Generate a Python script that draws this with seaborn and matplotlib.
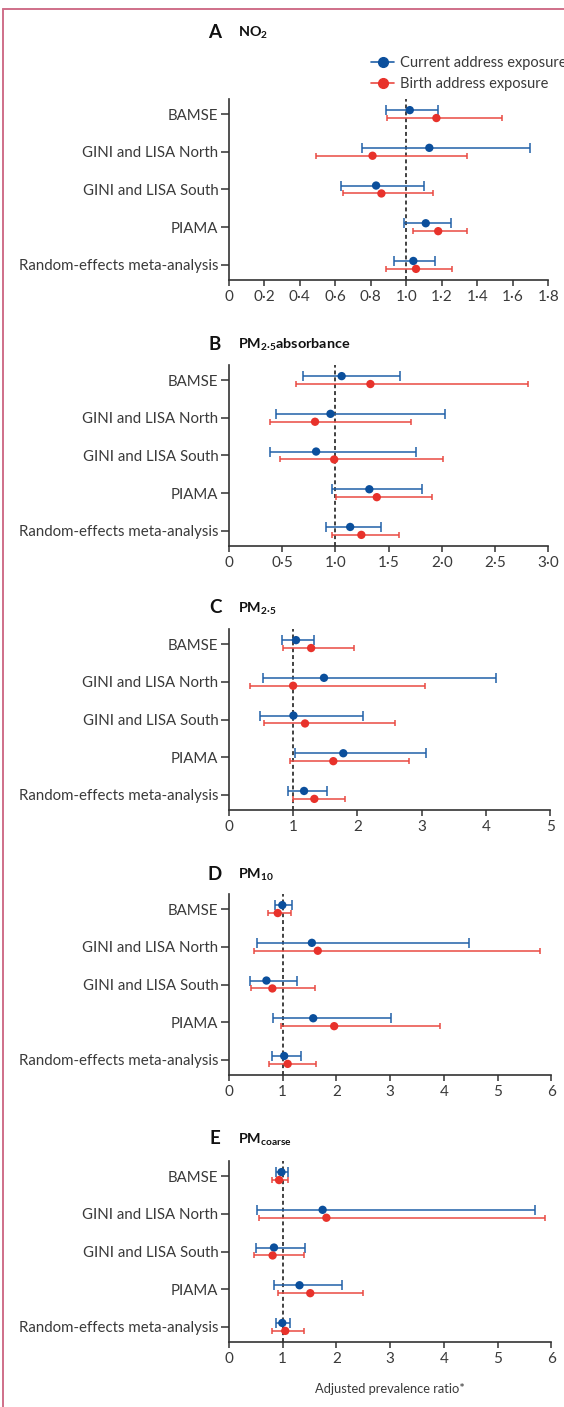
import numpy as np
import pandas as pd
import matplotlib
matplotlib.use("Agg")
import matplotlib.pyplot as plt
from matplotlib.lines import Line2D
import seaborn as sns

# ---------------- data ----------------
cohorts = ["BAMSE", "GINI and LISA North", "GINI and LISA South", "PIAMA",
           "Random-effects meta-analysis"]
exposures = ["Current address exposure", "Birth address exposure"]

panel_letters = ["A", "B", "C", "D", "E"]
panel_titles = ["NO$_2$", "PM$_{2·5}$absorbance", "PM$_{2·5}$", "PM$_{10}$", "PM$_{coarse}$"]

# NO2
no2_cur_pt = [1.02, 1.13, 0.83, 1.11, 1.04]
no2_cur_lo = [0.885, 0.75, 0.63, 0.99, 0.93]
no2_cur_hi = [1.18, 1.70, 1.10, 1.25, 1.16]
no2_bir_pt = [1.17, 0.81, 0.86, 1.18, 1.055]
no2_bir_lo = [0.89, 0.49, 0.645, 1.04, 0.885]
no2_bir_hi = [1.54, 1.34, 1.15, 1.34, 1.26]

# PM2.5 absorbance
abs_cur_pt = [1.06, 0.955, 0.82, 1.32, 1.14]
abs_cur_lo = [0.70, 0.445, 0.385, 0.97, 0.91]
abs_cur_hi = [1.61, 2.03, 1.76, 1.81, 1.43]
abs_bir_pt = [1.33, 0.81, 0.99, 1.39, 1.245]
abs_bir_lo = [0.63, 0.385, 0.485, 1.005, 0.965]
abs_bir_hi = [2.81, 1.71, 2.01, 1.91, 1.60]

# PM2.5
pm25_cur_pt = [1.045, 1.48, 1.005, 1.78, 1.17]
pm25_cur_lo = [0.83, 0.535, 0.49, 1.035, 0.915]
pm25_cur_hi = [1.325, 4.16, 2.09, 3.06, 1.525]
pm25_bir_pt = [1.28, 1.00, 1.185, 1.625, 1.33]
pm25_bir_lo = [0.85, 0.33, 0.555, 0.955, 1.00]
pm25_bir_hi = [1.945, 3.05, 2.58, 2.805, 1.80]

# PM10
pm10_cur_pt = [0.995, 1.545, 0.70, 1.57, 1.03]
pm10_cur_lo = [0.85, 0.53, 0.39, 0.83, 0.80]
pm10_cur_hi = [1.18, 4.46, 1.275, 3.01, 1.335]
pm10_bir_pt = [0.91, 1.655, 0.81, 1.96, 1.095]
pm10_bir_lo = [0.72, 0.475, 0.41, 0.97, 0.75]
pm10_bir_hi = [1.155, 5.79, 1.61, 3.93, 1.625]

# PMcoarse
pmc_cur_pt = [0.98, 1.745, 0.84, 1.315, 0.995]
pmc_cur_lo = [0.87, 0.53, 0.51, 0.835, 0.87]
pmc_cur_hi = [1.095, 5.70, 1.425, 2.105, 1.145]
pmc_bir_pt = [0.935, 1.815, 0.815, 1.515, 1.05]
pmc_bir_lo = [0.80, 0.555, 0.475, 0.92, 0.795]
pmc_bir_hi = [1.095, 5.89, 1.405, 2.50, 1.39]

# x tick values / labels per panel
ticks_A = [0, 0.2, 0.4, 0.6, 0.8, 1.0, 1.2, 1.4, 1.6, 1.8]
labels_A = ["0", "0·2", "0·4", "0·6", "0·8", "1·0", "1·2", "1·4", "1·6", "1·8"]
ticks_B = [0, 0.5, 1.0, 1.5, 2.0, 2.5, 3.0]
labels_B = ["0", "0·5", "1·0", "1·5", "2·0", "2·5", "3·0"]
ticks_C = [0, 1, 2, 3, 4, 5]
labels_C = ["0", "1", "2", "3", "4", "5"]
ticks_D = [0, 1, 2, 3, 4, 5, 6]
labels_D = ["0", "1", "2", "3", "4", "5", "6"]
ticks_E = [0, 1, 2, 3, 4, 5, 6]
labels_E = ["0", "1", "2", "3", "4", "5", "6"]

panels = [
    (no2_cur_pt, no2_cur_lo, no2_cur_hi, no2_bir_pt, no2_bir_lo, no2_bir_hi, ticks_A, labels_A),
    (abs_cur_pt, abs_cur_lo, abs_cur_hi, abs_bir_pt, abs_bir_lo, abs_bir_hi, ticks_B, labels_B),
    (pm25_cur_pt, pm25_cur_lo, pm25_cur_hi, pm25_bir_pt, pm25_bir_lo, pm25_bir_hi, ticks_C, labels_C),
    (pm10_cur_pt, pm10_cur_lo, pm10_cur_hi, pm10_bir_pt, pm10_bir_lo, pm10_bir_hi, ticks_D, labels_D),
    (pmc_cur_pt, pmc_cur_lo, pmc_cur_hi, pmc_bir_pt, pmc_bir_lo, pmc_bir_hi, ticks_E, labels_E),
]

# ---------------- style ----------------
sns.set_theme(style="ticks")
plt.rcParams["font.family"] = ["Lato", "DejaVu Sans"]
plt.rcParams["mathtext.fontset"] = "custom"
plt.rcParams["mathtext.rm"] = "Lato:bold"
plt.rcParams["mathtext.it"] = "Lato:bold"
plt.rcParams["mathtext.bf"] = "Lato:bold"
plt.rcParams["mathtext.default"] = "rm"

BLUE = "#0b4f9c"
RED = "#e8322b"
BLUE_LINE = "#2060a8"
RED_LINE = "#ea4a42"
TXT = "#3a3a3a"
SPINE = "#333333"
palette = {exposures[0]: BLUE, exposures[1]: RED}

W, H = 564, 1407
fig = plt.figure(figsize=(W / 100, H / 100), dpi=100)
fig.patch.set_facecolor("white")

ax_left = 228.8
ax_rights = [548.2, 548.2, 550.4, 551.4, 551.4]
tops = [99, 365, 629, 894, 1161]
ax_h = 181
title_y = [32, 344, 608, 874, 1139]

off = 0.105
ypos = np.arange(len(cohorts))

for i, (cpt, clo, chi, bpt, blo, bhi, tks, tls) in enumerate(panels):
    top = tops[i]
    ax = fig.add_axes([ax_left / W, 1 - (top + ax_h) / H, (ax_rights[i] - ax_left) / W, ax_h / H])
    df = pd.DataFrame({
        "cohort": cohorts * 2,
        "exposure": [exposures[0]] * 5 + [exposures[1]] * 5,
        "ratio": list(cpt) + list(bpt),
        "lo": list(clo) + list(blo),
        "hi": list(chi) + list(bhi),
    })
    df["y"] = np.concatenate([ypos - off, ypos + off])

    ax.axvline(1, color="#333333", lw=1.3, ls=(0, (2.2, 1.6)), zorder=1)

    for exp, lc, cap in [(exposures[0], BLUE_LINE, 3.6), (exposures[1], RED_LINE, 2.2)]:
        d = df[df["exposure"] == exp]
        ax.errorbar(d["ratio"], d["y"], xerr=[d["ratio"] - d["lo"], d["hi"] - d["ratio"]],
                    fmt="none", ecolor=lc, elinewidth=1.1, capsize=cap, capthick=1.1, zorder=2)

    sns.scatterplot(data=df, x="ratio", y="y", hue="exposure", palette=palette,
                    s=36, edgecolor="none", legend=False, zorder=3, ax=ax)

    ax.set_ylim(len(cohorts) - 1 + 0.4, -0.4)
    ax.set_yticks(ypos)
    ax.set_yticklabels(cohorts)
    ax.set_xlim(tks[0], tks[-1])
    ax.set_xticks(tks)
    ax.set_xticklabels(tls)
    ax.set_ylabel("")
    ax.set_xlabel("")
    ax.tick_params(axis="y", length=5.5, width=1.1, color=SPINE, labelsize=10.8, labelcolor=TXT, pad=2)
    ax.tick_params(axis="x", length=4, width=1.1, color=SPINE, labelsize=11, labelcolor=TXT, pad=3.5)
    for s in ["top", "right"]:
        ax.spines[s].set_visible(False)
    for s in ["left", "bottom"]:
        ax.spines[s].set_color(SPINE)
        ax.spines[s].set_linewidth(1.2)
    ax.set_facecolor("none")

    fig.text(215 / W, 1 - title_y[i] / H, panel_letters[i], fontsize=13.5, fontweight="bold",
             color="#111111", ha="center", va="center")
    fig.text(238 / W, 1 - (title_y[i] + 1) / H, panel_titles[i], fontsize=10.4, fontweight="bold",
             color="#111111", ha="left", va="center")

    if i == len(panels) - 1:
        ax.set_xlabel("Adjusted prevalence ratio*", fontsize=9.3, color=TXT, labelpad=12)

# legend
handles = [Line2D([], [], color=BLUE_LINE, lw=1.2, marker="o", ms=7, mfc=BLUE, mec=BLUE),
           Line2D([], [], color=RED_LINE, lw=1.2, marker="o", ms=7, mfc=RED, mec=RED)]
fig.legend(handles, exposures, loc="upper left", bbox_to_anchor=(371 / W, 1 - 56 / H),
           frameon=False, fontsize=10.5, handlelength=1.6, handletextpad=0.4,
           labelspacing=0.5, borderaxespad=0, borderpad=0, labelcolor=TXT)

# frame lines (page decoration)
fig.add_artist(Line2D([3 / W, 3 / W], [0, 1 - 9 / H], color="#cf6f89", lw=1.4))
fig.add_artist(Line2D([3 / W, 1], [1 - 9 / H, 1 - 9 / H], color="#cf6f89", lw=1.4))

fig.savefig("out.png", dpi=100)
